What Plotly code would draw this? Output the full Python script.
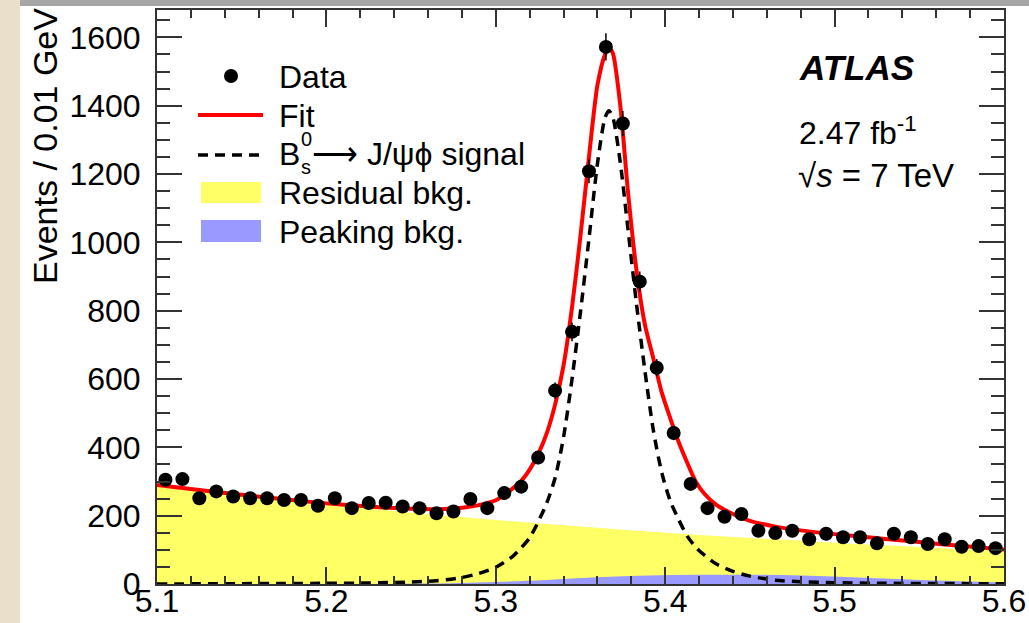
import plotly.graph_objects as go

# ---------------- data ----------------
bin_centers = [5.105, 5.115, 5.125, 5.135, 5.145, 5.155, 5.165, 5.175, 5.185, 5.195,
               5.205, 5.215, 5.225, 5.235, 5.245, 5.255, 5.265, 5.275, 5.285, 5.295,
               5.305, 5.315, 5.325, 5.335, 5.345, 5.355, 5.365, 5.375, 5.385, 5.395,
               5.405, 5.415, 5.425, 5.435, 5.445, 5.455, 5.465, 5.475, 5.485, 5.495,
               5.505, 5.515, 5.525, 5.535, 5.545, 5.555, 5.565, 5.575, 5.585, 5.595]
data_counts = [305, 307, 251, 271, 256, 251, 251, 246, 246, 229,
               251, 222, 237, 238, 227, 222, 207, 212, 249, 222,
               266, 285, 370, 566, 738, 1208, 1572, 1348, 885, 633,
               442, 293, 222, 197, 205, 156, 149, 156, 131, 147,
               137, 137, 119, 147, 137, 117, 131, 109, 111, 105]
data_errors = [17.5, 17.5, 15.8, 16.5, 16.0, 15.8, 15.8, 15.7, 15.7, 15.1,
               15.8, 14.9, 15.4, 15.4, 15.1, 14.9, 14.4, 14.6, 15.8, 14.9,
               16.3, 16.9, 19.2, 23.8, 27.2, 34.8, 39.6, 36.7, 29.7, 25.2,
               21.0, 17.1, 14.9, 14.0, 14.3, 12.5, 12.2, 12.5, 11.4, 12.1,
               11.7, 11.7, 10.9, 12.1, 11.7, 10.8, 11.4, 10.4, 10.5, 10.2]

curve_x = [5.100, 5.125, 5.150, 5.175, 5.200, 5.225, 5.250, 5.265, 5.280, 5.290,
           5.300, 5.310, 5.315, 5.320, 5.325, 5.330, 5.335, 5.340, 5.345, 5.350,
           5.355, 5.360, 5.3645, 5.3668, 5.369, 5.3735, 5.378, 5.383, 5.388, 5.393,
           5.398, 5.403, 5.408, 5.413, 5.418, 5.423, 5.430, 5.440, 5.450, 5.465,
           5.480, 5.500, 5.530, 5.560, 5.600]
fit_y = [290, 275, 261, 248, 236, 227, 220, 219, 223, 231,
         245, 280, 302, 335, 380, 440, 525, 640, 810, 1020,
         1250, 1460, 1550, 1568, 1555, 1400, 1150, 920, 760, 660,
         560, 485, 415, 355, 300, 265, 232, 205, 185, 168,
         157, 146, 132, 118, 101]
signal_y = [0, 0.5, 1, 1.5, 2, 3, 6, 9.5, 19, 31,
            49, 81, 106, 135, 182, 236, 310, 430, 600, 797,
            1010, 1230, 1365, 1385, 1368, 1233, 1040, 822, 625, 450,
            325, 243, 188, 140, 108, 85, 59, 37, 23, 11,
            6.5, 4, 2, 1.5, 0.7]

bkg_x = [5.10, 5.15, 5.20, 5.25, 5.30, 5.35, 5.40, 5.45, 5.50, 5.55, 5.60]
residual_y = [290, 260, 233, 209, 187, 168, 150, 135, 121, 108, 97]

peak_x = [5.10, 5.20, 5.25, 5.28, 5.30, 5.33, 5.36, 5.39, 5.42, 5.45, 5.48, 5.51, 5.54, 5.57, 5.60]
peaking_y = [0, 0, 1, 3, 6, 12, 20, 25, 27, 27, 25, 20, 14, 9, 5]

x_ticks = [5.1, 5.2, 5.3, 5.4, 5.5, 5.6]
x_ticklabels = ["5.1", "5.2", "5.3", "5.4", "5.5", "5.6"]
y_ticks = [0, 200, 400, 600, 800, 1000, 1200, 1400, 1600]

# ---------------- geometry helpers ----------------
W, H = 1029, 623
L, R, T, B = 157, 1004, 10, 584
PW, PH = R - L, B - T
FONT = "Liberation Sans, Arial, Helvetica, sans-serif"


def px(x):
    return (x - L) / PW


def py(y):
    return (B - y) / PH


fig = go.Figure()

fig.add_trace(go.Scatter(x=bkg_x, y=residual_y, mode="lines", fill="tozeroy",
                         fillcolor="rgb(255,255,102)", line=dict(width=0, color="rgb(255,255,102)"),
                         line_shape="spline", showlegend=False, hoverinfo="skip"))
fig.add_trace(go.Scatter(x=peak_x, y=peaking_y, mode="lines", fill="tozeroy",
                         fillcolor="rgb(153,153,255)", line=dict(width=0, color="rgb(153,153,255)"),
                         line_shape="spline", showlegend=False, hoverinfo="skip"))
fig.add_trace(go.Scatter(x=curve_x, y=signal_y, mode="lines",
                         line=dict(color="black", width=3.5, dash="10px,7px", shape="spline", smoothing=0.7),
                         showlegend=False))
fig.add_trace(go.Scatter(x=curve_x, y=fit_y, mode="lines",
                         line=dict(color="rgb(255,0,0)", width=4, shape="spline", smoothing=0.7),
                         showlegend=False))
fig.add_trace(go.Scatter(x=bin_centers, y=data_counts, mode="markers",
                         marker=dict(color="black", size=14),
                         error_y=dict(type="data", array=data_errors, color="black", thickness=1.5, width=0),
                         showlegend=False))

axis_common = dict(showline=True, linecolor="#333333", linewidth=2, mirror="allticks",
                   ticks="inside", tickcolor="#333333", tickwidth=1.5, showgrid=False, zeroline=False,
                   automargin=False,
                   tickfont=dict(family=FONT, size=32, color="black"))

fig.update_xaxes(range=[5.1, 5.6], tickvals=x_ticks, ticktext=x_ticklabels, ticklen=17,
                 minor=dict(dtick=0.02, tick0=5.1, ticklen=8, tickcolor="#333333", tickwidth=1.5, ticks="inside"),
                 ticklabelstandoff=-12, **axis_common)
fig.update_yaxes(range=[0, 1680], tickvals=y_ticks, ticklen=25,
                 minor=dict(dtick=50, tick0=0, ticklen=13, tickcolor="#333333", tickwidth=1.5, ticks="inside"),
                 ticklabelstandoff=8, **axis_common)

shapes = []
# slide background pieces outside the chart image
shapes.append(dict(type="rect", xref="paper", yref="paper", x0=px(0), x1=px(20), y0=py(W), y1=py(0),
                   fillcolor="#E9DFCB", line=dict(width=0), layer="below"))
shapes.append(dict(type="rect", xref="paper", yref="paper", x0=px(20), x1=px(W), y0=py(6), y1=py(0),
                   fillcolor="#A5A5A5", line=dict(width=0), layer="below"))

# manual legend
r = 7
shapes.append(dict(type="circle", xref="paper", yref="paper", x0=px(231 - r), x1=px(231 + r),
                   y0=py(76 + r), y1=py(76 - r), fillcolor="black", line=dict(width=0)))
shapes.append(dict(type="line", xref="paper", yref="paper", x0=px(198), x1=px(263), y0=py(115), y1=py(115),
                   line=dict(color="rgb(255,0,0)", width=4)))
shapes.append(dict(type="line", xref="paper", yref="paper", x0=px(198), x1=px(263), y0=py(155), y1=py(155),
                   line=dict(color="black", width=3.5, dash="10px,7px")))
shapes.append(dict(type="rect", xref="paper", yref="paper", x0=px(201), x1=px(261), y0=py(203), y1=py(182),
                   fillcolor="rgb(255,255,102)", line=dict(width=0)))
shapes.append(dict(type="rect", xref="paper", yref="paper", x0=px(201), x1=px(261), y0=py(242), y1=py(220),
                   fillcolor="rgb(153,153,255)", line=dict(width=0)))

annotations = []


def txt(text, x, y, size=32, xanchor="left", yanchor="middle", angle=0):
    annotations.append(dict(text=text, x=px(x), y=py(y), xref="paper", yref="paper",
                            xanchor=xanchor, yanchor=yanchor, showarrow=False, textangle=angle,
                            borderpad=0,
                            font=dict(family=FONT, size=size, color="black")))


txt("Data", 278, 77)
txt("Fit", 278, 116)
txt("B", 278, 154)
txt("0", 300, 139, size=20)
txt("s", 300, 167, size=20)
txt("\u27f6 J/\u03c8\u03d5 signal", 311, 154)
txt("Residual bkg.", 278, 193)
txt("Peaking bkg.", 278, 232)

txt("<b><i>ATLAS</i></b>", 798, 68, size=35)
txt("2.47 fb<sup>-1</sup>", 798, 131, size=32)
txt("\u221a<i>s</i> = 7 TeV", 797, 176, size=33)

txt("Events / 0.01 GeV", 45, 146, size=34, xanchor="center", angle=-90)

fig.update_layout(width=W, height=H, margin=dict(l=L, r=W - R, t=T, b=H - B, pad=0),
                  paper_bgcolor="white", plot_bgcolor="white",
                  shapes=shapes, annotations=annotations, showlegend=False,
                  font=dict(family=FONT, color="black"))

fig.write_html("out.html")
